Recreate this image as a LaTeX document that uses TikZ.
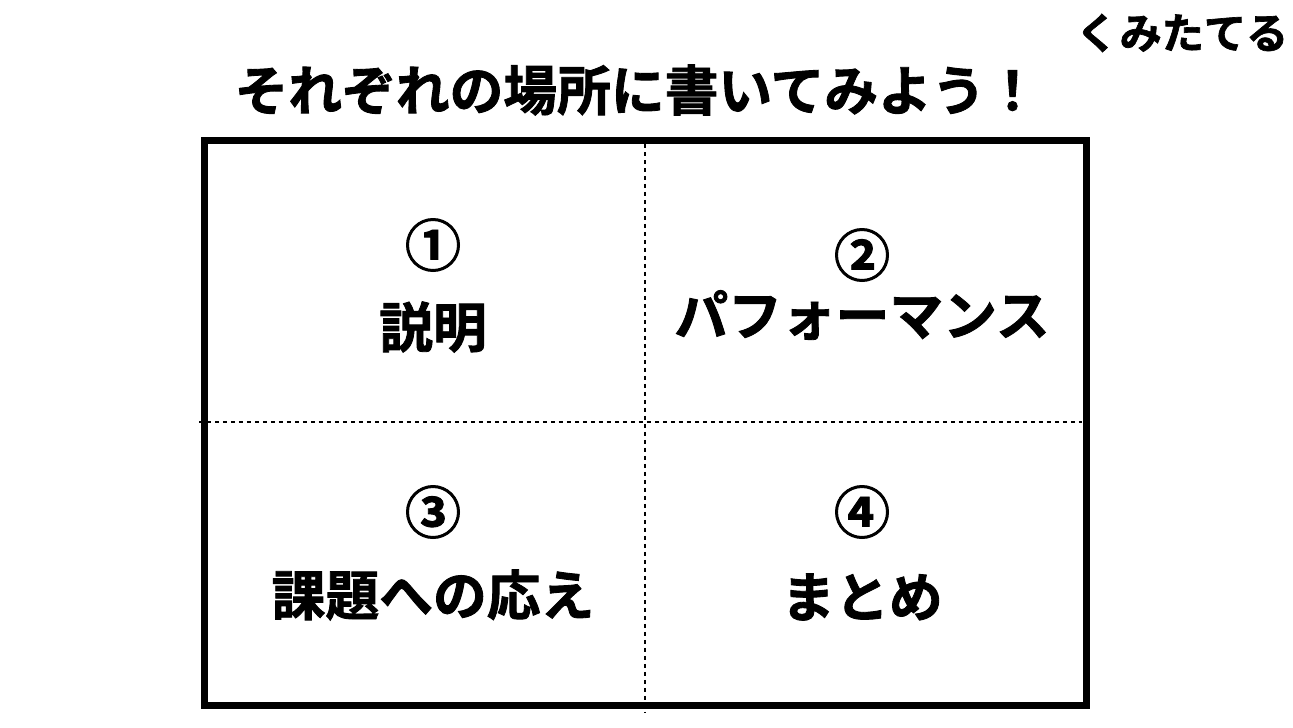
\documentclass[tikz,border=0pt]{standalone}
\usepackage{fontspec}
\newfontfamily\jpfont{Noto Sans CJK JP}[BoldFont={Noto Sans CJK JP Bold},BoldFeatures={FakeBold=1.6}]
\usetikzlibrary{positioning}
\tikzset{
    heading/.style={
           font=\jpfont\bfseries\fontsize{30.6pt}{30.6pt}\selectfont,
           inner sep=0pt,
           },
}
\tikzset{
    brand/.style={
           font=\jpfont\bfseries\fontsize{24pt}{24pt}\selectfont,
           inner sep=0pt,
           },
}
\tikzset{
    num/.style={
           font=\jpfont\bfseries\fontsize{32pt}{32pt}\selectfont,
           inner sep=0pt,
           },
}
\tikzset{
    word/.style={
           font=\jpfont\bfseries\fontsize{30.6pt}{30.6pt}\selectfont,
           inner sep=0pt,
           },
}
\tikzset{
    frame/.style={
           draw=black,
           line width=0.14cm,
           },
}
\tikzset{
    split/.style={
           draw=black,
           line width=0.04cm,
           dash pattern=on 0.08cm off 0.08cm,
           },
}

\begin{document}
\begin{tikzpicture}[x=0.02cm,y=-0.02cm]
\useasboundingbox (0,0) rectangle (1293,727);
% frame and the two cuts
\draw[frame] (204.5,140.5) rectangle (1086.5,705.5);
\coordinate (top) at (645,144);
\coordinate (bottom) at (645,712);
\coordinate (left) at (199,422);
\coordinate (right) at (1082,422);
\draw[split] (top) -- (bottom);
\draw[split] (left) -- (right);
% texts
\node[brand](brand) at (1182,33){くみたてる};
\node[heading](head) at (637,90){それぞれの場所に書いてみよう！};
\node[num](n1) at (433,245){①};
\node[word](w1) at (433,327){説明};
\node[num](n2) at (862,255){②};
\node[word](w2) at (862,315){パフォーマンス};
\node[num](n3) at (433,512){③};
\node[word](w3) at (433,595){課題への応え};
\node[num](n4) at (862,512){④};
\node[word](w4) at (862,597){まとめ};
\end{tikzpicture}
\end{document}
